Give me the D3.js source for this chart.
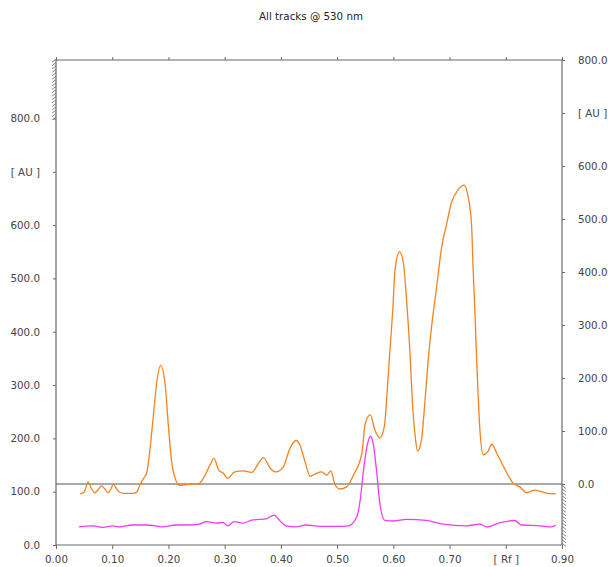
<!DOCTYPE html>
<html>
<head>
<meta charset="utf-8">
<script src="https://cdn.jsdelivr.net/npm/d3@7"></script>
<style>
  body { margin: 0; background: #fff; }
  text { font-family: "DejaVu Sans", Verdana, sans-serif; }
</style>
</head>
<body>
<div id="chart"></div>
<script>
// Track 1 (orange) - Rf and signal in AU (left axis)
const orangeRf = [0.043,0.05,0.057,0.063,0.069,0.075,0.081,0.087,0.093,0.098,0.102,0.108,0.113,0.12,0.13,0.138,0.144,0.149,0.155,0.161,0.167,0.173,0.179,0.186,0.194,0.2,0.206,0.212,0.219,0.228,0.238,0.253,0.262,0.274,0.281,0.289,0.298,0.305,0.318,0.333,0.348,0.36,0.369,0.381,0.391,0.404,0.416,0.427,0.434,0.443,0.452,0.462,0.473,0.481,0.489,0.496,0.505,0.517,0.529,0.544,0.55,0.559,0.567,0.576,0.584,0.588,0.594,0.599,0.603,0.611,0.618,0.624,0.63,0.634,0.639,0.643,0.65,0.656,0.662,0.668,0.677,0.686,0.695,0.703,0.715,0.726,0.733,0.739,0.742,0.745,0.748,0.751,0.754,0.76,0.768,0.775,0.784,0.796,0.813,0.825,0.837,0.852,0.873,0.889];
const orangeAu = [96,99,118,106,98,104,111,105,98,106,114,105,99,97,97,97,100,112,124,134,178,241,303,337,303,222,153,125,112,113,114,114,125,150,163,141,134,125,137,139,136,153,164,144,137,146,181,196,187,156,129,134,137,131,139,114,105,109,131,172,228,244,216,201,222,272,366,441,516,550,528,453,353,266,203,176,197,266,347,409,484,559,603,641,666,675,653,603,516,441,353,278,216,169,175,189,172,147,116,109,98,103,97,96];

// Track 2 (magenta)
const magentaRf = [0.041,0.065,0.083,0.101,0.113,0.136,0.16,0.178,0.19,0.213,0.237,0.255,0.267,0.285,0.297,0.305,0.317,0.332,0.35,0.374,0.388,0.397,0.409,0.427,0.445,0.47,0.5,0.52,0.535,0.541,0.547,0.553,0.559,0.564,0.57,0.576,0.585,0.6,0.624,0.659,0.689,0.73,0.754,0.766,0.79,0.816,0.828,0.861,0.882,0.889];
const magentaAu = [34,36,33,36,34,37.5,37.5,36,34,37.5,37.5,39,44,41,42.5,36,44,41,47,49,56,47,36,34,37.5,35,35,36,53,84,141,184,204,191,141,78,46,45,48,46,39,36,39,34,42,46,37.5,36,34,37.5];

// Axis ticks
const xTicks = [0,0.1,0.2,0.3,0.4,0.5,0.6,0.7,0.8,0.9];
const xLabels = ["0.00","0.10","0.20","0.30","0.40","0.50","0.60","0.70","[ Rf ]","0.90"];
const yTicks = [0,100,200,300,400,500,600,700,800];
const yLabels = ["0.0","100.0","200.0","300.0","400.0","500.0","600.0","[ AU ]","800.0"];

const W = 608, H = 567;
const box = {left: 56, right: 562, top: 60, bottom: 545};

const svg = d3.select("#chart").append("svg")
    .attr("width", W).attr("height", H);

const x = d3.scaleLinear().domain([0, 0.9]).range([box.left, box.right]);
const yL = d3.scaleLinear().domain([0, 800]).range([box.bottom, 118.5]);
const yR = d3.scaleLinear().domain([0, 800]).range([484, box.top]);

const axisColor = "#6a6a6a";
const textColor = "#444";
const font = "'DejaVu Sans', Verdana, sans-serif";

// Title
svg.append("text")
    .attr("x", 311).attr("y", 20)
    .attr("text-anchor", "middle")
    .attr("font-size", 10.3)
    .attr("fill", "#222")
    .text("All tracks @ 530 nm");

// Bottom axis
const gx = svg.append("g")
    .attr("transform", `translate(0,${box.bottom})`)
    .call(d3.axisBottom(x).tickValues(xTicks).tickSize(4).tickPadding(7)
        .tickFormat((d, i) => xLabels[i]));
// Top axis (ticks only)
const gxt = svg.append("g")
    .attr("transform", `translate(0,${box.top})`)
    .call(d3.axisTop(x).tickValues(xTicks).tickSize(3).tickFormat(""));
// Left axis
const gyl = svg.append("g")
    .attr("transform", `translate(${box.left},0)`)
    .call(d3.axisLeft(yL).tickValues(yTicks).tickSize(3).tickPadding(13)
        .tickFormat((d, i) => yLabels[i]));
// Right axis
const gyr = svg.append("g")
    .attr("transform", `translate(${box.right},0)`)
    .call(d3.axisRight(yR).tickValues(yTicks).tickSize(3).tickPadding(13)
        .tickFormat((d, i) => yLabels[i]));

[gx, gxt, gyl, gyr].forEach(g => {
  g.select(".domain").attr("stroke", axisColor).attr("stroke-width", 1.2);
  g.selectAll(".tick line").attr("stroke", axisColor);
  g.selectAll(".tick text").attr("fill", textColor)
      .attr("font-size", 10.3)
      .attr("font-family", font);
});
gx.select(".domain").attr("d", `M${box.left},0H${box.right}`);
gxt.select(".domain").attr("d", `M${box.left},0H${box.right}`);
gyl.select(".domain").attr("d", `M0,${box.bottom}V${box.top}`);
gyr.select(".domain").attr("d", `M0,${box.bottom}V${box.top}`);

// Hatched parts of the axes (out of range zones)
const hatchL = d3.range(yL(800), box.top - 0.1, -3.4);
svg.append("g").selectAll("line").data(hatchL).join("line")
    .attr("x1", box.left - 4).attr("y1", d => d + 1.5)
    .attr("x2", box.left).attr("y2", d => d - 1.5)
    .attr("stroke", axisColor).attr("stroke-width", 0.8);
const hatchR = d3.range(yR(0) + 3, box.bottom + 0.1, 3.4);
svg.append("g").selectAll("line").data(hatchR).join("line")
    .attr("x1", box.right).attr("y1", d => d - 1.5)
    .attr("x2", box.right + 4).attr("y2", d => d + 1.5)
    .attr("stroke", axisColor).attr("stroke-width", 0.8);

// Baseline at right axis zero
svg.append("line")
    .attr("x1", box.left).attr("x2", box.right)
    .attr("y1", yR(0)).attr("y2", yR(0))
    .attr("stroke", "#555").attr("stroke-width", 1.2);

// Tracks
const line = d3.line().curve(d3.curveMonotoneX)
    .x(d => x(d[0])).y(d => yL(d[1]));

svg.append("path")
    .datum(magentaRf.map((r, i) => [r, magentaAu[i]]))
    .attr("fill", "none")
    .attr("stroke", "#f03cf0")
    .attr("stroke-width", 1.3)
    .attr("d", line);

svg.append("path")
    .datum(orangeRf.map((r, i) => [r, orangeAu[i]]))
    .attr("fill", "none")
    .attr("stroke", "#f5821f")
    .attr("stroke-width", 1.3)
    .attr("d", line);
</script>
</body>
</html>
